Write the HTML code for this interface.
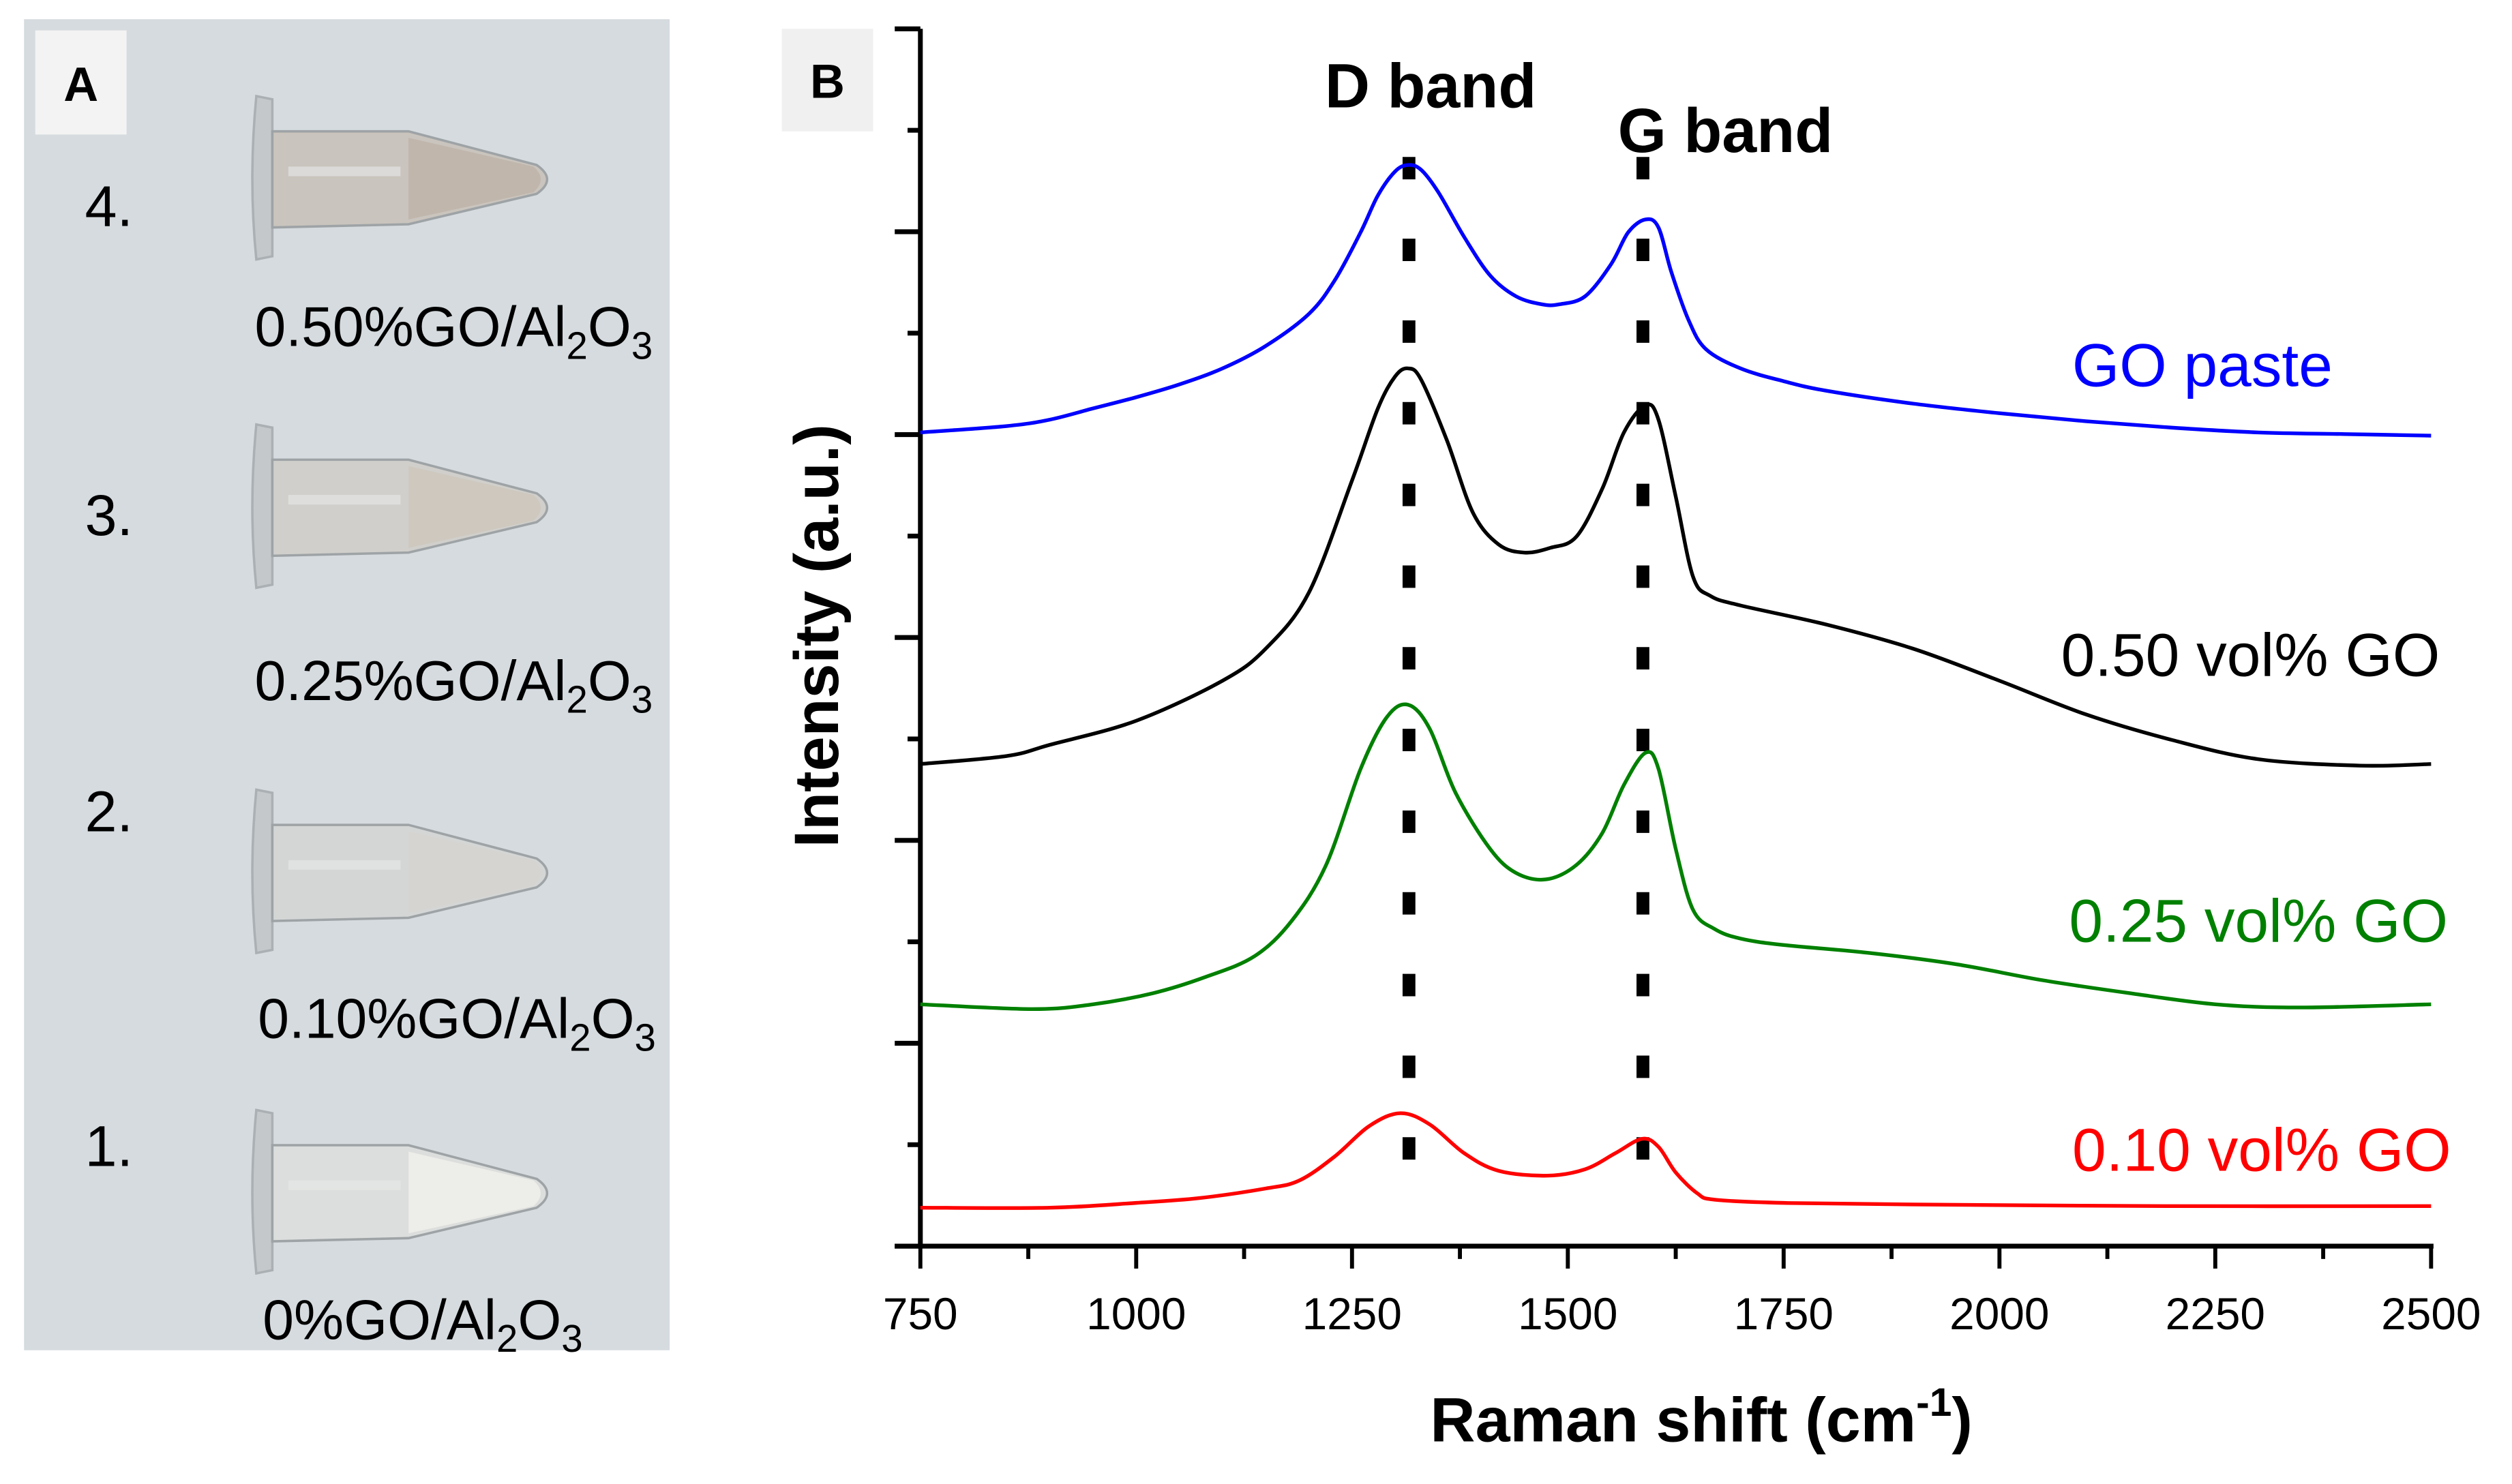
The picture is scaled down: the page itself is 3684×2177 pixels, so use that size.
<!DOCTYPE html>
<html><head><meta charset="utf-8"><style>
html,body{margin:0;padding:0;background:#fff;}
svg{display:block;}
text{font-family:"Liberation Sans",Arial,sans-serif;}
</style></head><body>
<svg id="fig" width="3684" height="2177" viewBox="0 0 1568 926.5" preserveAspectRatio="none" xmlns="http://www.w3.org/2000/svg">
<rect x="0" y="0" width="1568" height="926.5" fill="#fff"/>
<!-- Panel A -->
<g>
<rect x="15" y="12" width="403" height="831" fill="#d5dbdf"/>
<rect x="22" y="19" width="57" height="65" fill="#f3f3f3"/>
<text x="50.5" y="63" font-size="30" font-weight="bold" text-anchor="middle">A</text>
<g id="tubes"></g>
<text x="53" y="141" font-size="36">4.</text>
<text x="53" y="334" font-size="36">3.</text>
<text x="53" y="519" font-size="36">2.</text>
<text x="53" y="728" font-size="36">1.</text>
<text x="159" y="216" font-size="35">0.50%GO/Al<tspan font-size="24" dy="8">2</tspan><tspan dy="-8">O</tspan><tspan font-size="24" dy="8">3</tspan></text>
<text x="159" y="437" font-size="35">0.25%GO/Al<tspan font-size="24" dy="8">2</tspan><tspan dy="-8">O</tspan><tspan font-size="24" dy="8">3</tspan></text>
<text x="161" y="648" font-size="35">0.10%GO/Al<tspan font-size="24" dy="8">2</tspan><tspan dy="-8">O</tspan><tspan font-size="24" dy="8">3</tspan></text>
<text x="164" y="836" font-size="35">0%GO/Al<tspan font-size="24" dy="8">2</tspan><tspan dy="-8">O</tspan><tspan font-size="24" dy="8">3</tspan></text>
</g>
<!-- Panel B -->
<rect x="488" y="18" width="57" height="64" fill="#f0f0f0"/>
<text x="516.5" y="61" font-size="30" font-weight="bold" text-anchor="middle">B</text>
<g id="chart"></g>
<text x="893" y="67" font-size="39" font-weight="bold" text-anchor="middle">D band</text>
<text x="1077" y="95" font-size="39" font-weight="bold" text-anchor="middle">G band</text>
<text x="1456" y="241" font-size="38" fill="#0000ff" text-anchor="end">GO paste</text>
<text x="1523" y="422" font-size="38" fill="#000" text-anchor="end">0.50 vol% GO</text>
<text x="1528" y="588" font-size="38" fill="#008000" text-anchor="end">0.25 vol% GO</text>
<text x="1530" y="731" font-size="38" fill="#ff0000" text-anchor="end">0.10 vol% GO</text>
<text x="1062" y="900" font-size="39" font-weight="bold" text-anchor="middle">Raman shift (cm<tspan font-size="25" dy="-16">-1</tspan><tspan dy="16">)</tspan></text>
<text transform="translate(523,397) rotate(-90)" font-size="39" font-weight="bold" text-anchor="middle">Intensity (a.u.)</text>
</svg>
<script>
// Raman shift (cm-1) and intensity (a.u., offset-stacked)
const xTicks = [750, 1000, 1250, 1500, 1750, 2000, 2250, 2500];
const xMinor = [875, 1125, 1375, 1625, 1875, 2125, 2375];
const bandPositions = [1316, 1587];
const bluX = [750,850,900,950,1000,1050,1100,1150,1200,1230,1260,1280,1300,1315,1330,1350,1380,1410,1440,1470,1490,1520,1550,1570,1590,1605,1620,1640,1660,1700,1750,1800,1900,2000,2100,2200,2300,2400,2500];
const bluY = [508,512,516,523,530,538,548,562,582,603,633,656,671,675,672,658,630,606,593,588,588,593,613,633,641,636,608,578,560,548,540,534,526,520,515,511,508,507,506];
const blkX = [750,850,900,1000,1100,1150,1200,1250,1280,1300,1315,1330,1360,1390,1420,1450,1480,1510,1540,1565,1590,1605,1625,1645,1665,1700,1800,1900,2000,2100,2200,2300,2418,2500];
const blkY = [301,306,313,328,353,373,408,478,523,543,548,541,503,458,438,433,436,443,473,508,525,516,468,418,406,400,388,373,353,332,316,304,300,301];
const grnX = [750,880,950,1020,1080,1137,1180,1220,1260,1290,1315,1340,1370,1410,1440,1475,1510,1540,1565,1590,1605,1625,1645,1670,1700,1750,1850,1950,2050,2150,2250,2350,2500];
const grnY = [151,148,151,158,168,181,203,238,298,330,338,323,283,248,233,229,238,258,288,308,298,248,210,198,192,188,183,176,166,158,151,149,151];
const redX = [750,900,1000,1073,1150,1189,1230,1270,1306,1340,1380,1420,1476,1520,1555,1586,1605,1625,1650,1670,1750,1900,2200,2500];
const redY = [24,24,27,30,36,41,56,75,83,76,58,47,44,48,58,67,62,46,33,29,27,26,25,25];

const NS = "http://www.w3.org/2000/svg";
const chart = document.getElementById('chart');
const X0 = 574.5, X1 = 1517.5, Y0 = 778, YTOP = 18;
function xs(v){ return X0 + (v - 750) * (X1 - X0) / 1750; }
function ys(v){ return Y0 - v; }
function mk(tag, attrs, parent){ const e = document.createElementNS(NS, tag); for (const k in attrs) e.setAttribute(k, attrs[k]); (parent||chart).appendChild(e); return e; }

let a = mk('line', {x1:X0, y1:YTOP, x2:X0, y2:Y0+1.5, stroke:'#000', 'stroke-width':3});


a = mk('line', {x1:X0-16, y1:Y0, x2:X1+1.5, y2:Y0, stroke:'#000', 'stroke-width':3});


for (let i = 0; i <= 12; i++) {
  const y = Y0 - i * (Y0 - YTOP) / 12;
  const len = (i % 2 === 0) ? 16 : 8;
  const t = mk('line', {x1:X0-len, y1:y, x2:X0, y2:y, stroke:'#000', 'stroke-width':3});
  
  
}
xTicks.forEach(v => {
  const t = mk('line', {x1:xs(v), y1:Y0, x2:xs(v), y2:Y0+14, stroke:'#000', 'stroke-width':2.5});
  
  
  const l = mk('text', {x:xs(v), y:830, 'font-size':28, 'text-anchor':'middle'});
  l.textContent = String(v);
  
  
});
xMinor.forEach(v => {
  const t = mk('line', {x1:xs(v), y1:Y0, x2:xs(v), y2:Y0+8, stroke:'#000', 'stroke-width':2.5});
  
  
});

bandPositions.forEach((v, i) => {
  const d = mk('line', {x1:xs(v), y1:98, x2:xs(v), y2:734, stroke:'#000', 'stroke-width':8, 'stroke-dasharray':'14 37'});
  
  
});

function pathFrom(X, Y){
  const p = X.map((x, i) => [xs(x), ys(Y[i])]);
  let d = 'M' + p[0][0].toFixed(2) + ',' + p[0][1].toFixed(2);
  for (let i = 0; i < p.length - 1; i++) {
    const p0 = p[Math.max(0, i-1)], p1 = p[i], p2 = p[i+1], p3 = p[Math.min(p.length-1, i+2)];
    const c1 = [p1[0] + (p2[0]-p0[0])/6, p1[1] + (p2[1]-p0[1])/6];
    const c2 = [p2[0] - (p3[0]-p1[0])/6, p2[1] - (p3[1]-p1[1])/6];
    d += 'C' + c1[0].toFixed(2) + ',' + c1[1].toFixed(2) + ' ' + c2[0].toFixed(2) + ',' + c2[1].toFixed(2) + ' ' + p2[0].toFixed(2) + ',' + p2[1].toFixed(2);
  }
  return d;
}
const series = [[bluX, bluY, '#0000ff', 'series-go-paste'], [blkX, blkY, '#000000', 'series-050-vol'], [grnX, grnY, '#008000', 'series-025-vol'], [redX, redY, '#ff0000', 'series-010-vol']];
series.forEach(s => {
  const p = mk('path', {d:pathFrom(s[0], s[1]), fill:'none', stroke:s[2], 'stroke-width':2.3, 'stroke-linejoin':'round'});
  
  
});

const tubes = document.getElementById('tubes');
const tubeY = [112, 317, 545, 745];
const tubeFill = ['#c9c4bd', '#d0cfcb', '#d4d6d6', '#dcdedd'];
const tipFill = ['#bfb5aa', '#cdc6bc', '#d6d4cf', '#eeeeea'];
tubeY.forEach((cy, i) => {
  const g = mk('g', {}, tubes);
  
  
  mk('path', {d:`M160 ${cy-52} Q155 ${cy} 160 ${cy+50} L170 ${cy+48} L170 ${cy-50} Z`, fill:'#c4c8ca', stroke:'#aab0b3', 'stroke-width':1.5}, g);
  mk('path', {d:`M170 ${cy-30} L255 ${cy-30} L335 ${cy-9} Q348 ${cy} 335 ${cy+9} L255 ${cy+28} L170 ${cy+30} Z`, fill:tubeFill[i], stroke:'#9ea3a6', 'stroke-width':1.5}, g);
  mk('path', {d:`M255 ${cy-26} L333 ${cy-8} Q342 ${cy} 333 ${cy+8} L255 ${cy+25} Z`, fill:tipFill[i], opacity:0.9}, g);
  mk('rect', {x:180, y:cy-8, width:70, height:6, fill:'#e8eaea', opacity:0.6}, g);
});
</script>
</body></html>
